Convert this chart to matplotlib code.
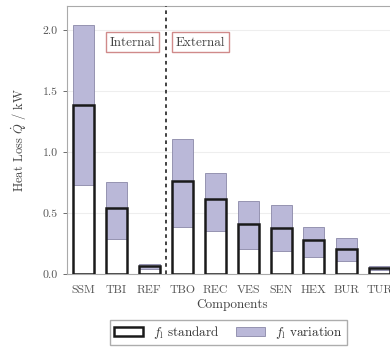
import numpy as np
import matplotlib
matplotlib.use('Agg')
import matplotlib.pyplot as plt
from matplotlib.patches import Patch

plt.rcParams['font.family'] = 'serif'
plt.rcParams['font.serif'] = ['cmr10', 'DejaVu Serif']
plt.rcParams['mathtext.fontset'] = 'cm'
plt.rcParams['axes.formatter.use_mathtext'] = True

components = ['SSM', 'TBI', 'REF', 'TBO', 'REC', 'VES', 'SEN', 'HEX', 'BUR', 'TUR']
q_standard = [1.39, 0.54, 0.068, 0.76, 0.62, 0.41, 0.38, 0.28, 0.205, 0.05]
q_min = [0.73, 0.285, 0.04, 0.39, 0.355, 0.205, 0.19, 0.14, 0.107, 0.03]
q_max = [2.04, 0.757, 0.085, 1.11, 0.83, 0.60, 0.57, 0.39, 0.30, 0.065]

lavender = '#bab8d8'
x = np.arange(len(components))
w = 0.64

fig = plt.figure(figsize=(3.9, 3.47), dpi=100)
ax = fig.add_axes([0.172, 0.21, 0.844, 0.773])

ax.bar(x, np.array(q_max) - np.array(q_min), bottom=q_min, width=w,
       color=lavender, edgecolor='#8a88a8', linewidth=0.6, zorder=2)
ax.bar(x, q_standard, width=w, facecolor='none', edgecolor='#1a1a1a',
       linewidth=1.8, zorder=3)

ax.axvline(2.5, color='#333333', linestyle=(0, (2, 2)), linewidth=1.3, zorder=4)

box = dict(boxstyle='square,pad=0.3', facecolor='white', edgecolor='#d08a8a', linewidth=1.0)
ax.text(1.48, 1.9, 'Internal', ha='center', va='center', fontsize=9.5,
        color='#444444', bbox=box, zorder=5)
ax.text(3.55, 1.9, 'External', ha='center', va='center', fontsize=9.5,
        color='#444444', bbox=box, zorder=5)

ax.set_xlim(-0.5, 9.5)
ax.set_ylim(0, 2.2)
ax.set_yticks([0.0, 0.5, 1.0, 1.5, 2.0])
ax.set_yticklabels(['0.0', '0.5', '1.0', '1.5', '2.0'])
ax.set_xticks(x)
ax.set_xticklabels(components)
ax.tick_params(axis='both', labelsize=8.5, colors='#555555', length=3, width=0.6)
ax.tick_params(axis='x', length=0, pad=8)
ax.grid(axis='y', color='#eeeeee', linewidth=0.8, zorder=0)
ax.set_axisbelow(True)
for s in ax.spines.values():
    s.set_color('#aaaaaa')
    s.set_linewidth(0.8)

ax.set_ylabel(r'Heat Loss $\dot{Q}$ / kW', fontsize=9, color='#444444', labelpad=10)
ax.set_xlabel('Components', fontsize=9.5, color='#444444', labelpad=3)

handles = [Patch(facecolor='white', edgecolor='#1a1a1a', linewidth=1.8),
           Patch(facecolor=lavender, edgecolor='#8a88a8', linewidth=0.6)]
leg = fig.legend(handles, [r'$f_\mathrm{l}$ standard', r'$f_\mathrm{l}$ variation'],
                 loc='lower center', bbox_to_anchor=(0.585, 0.006), ncol=2,
                 fontsize=9.5, frameon=True, fancybox=False, edgecolor='#999999',
                 handlelength=2.2, handleheight=0.7, columnspacing=1.2,
                 borderpad=0.3, borderaxespad=0)
for t in leg.get_texts():
    t.set_color('#333333')

fig.savefig('out.png', dpi=100)
